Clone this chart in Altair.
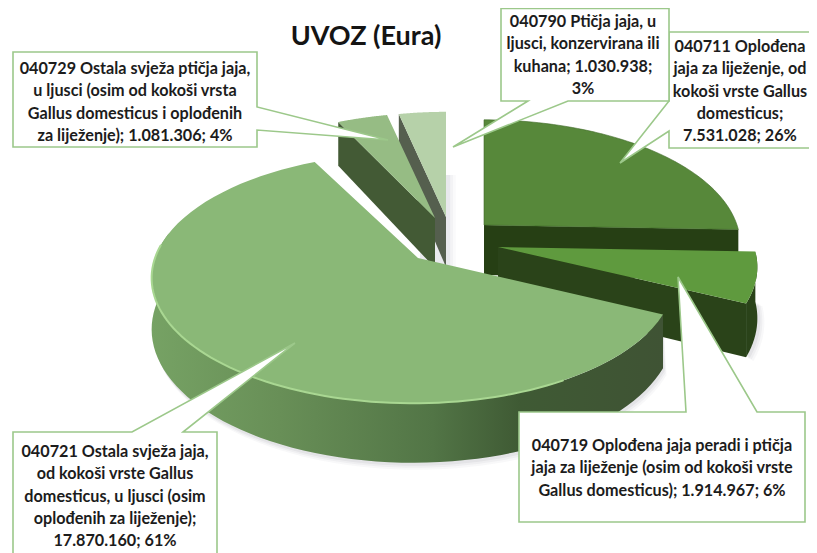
import math
import altair as alt

# ---- data
codes = ["040711", "040719", "040721", "040729", "040790"]
values = [7531028, 1914967, 17870160, 1081306, 1030938]
label_lines = [
    ["040711 Oplođena", "jaja za liježenje, od", "kokoši vrste Gallus", "domesticus;", "7.531.028; 26%"],
    ["040719 Oplođena jaja peradi i ptičja", "jaja za liježenje (osim od kokoši vrste", "Gallus domesticus); 1.914.967; 6%"],
    ["040721 Ostala svježa jaja,", "od kokoši vrste Gallus", "domesticus, u ljusci (osim", "oplođenih za liježenje);", "17.870.160; 61%"],
    ["040729 Ostala svježa ptičja jaja,", "u ljusci (osim od kokoši vrsta", "Gallus domesticus i oplođenih", "za liježenje); 1.081.306; 4%"],
    ["040790 Ptičja jaja, u", "ljusci, konzervirana ili", "kuhana; 1.030.938;", "3%"],
]
title_text = "UVOZ (Eura)"

# ---- layout (page pixels)
RY, K, DEPTH = 122, 0.16, 50
slice_geo = {  # apex x, apex y, rx, arc centre shift
    "040711": (484, 225, 253, 0),
    "040719": (498, 247, 256, 0),
    "040721": (418, 258, 258, -5),
    "040729": (435, 218, 254, 0),
    "040790": (446, 217, 250, 0),
}
top_col = {"040711": "#57883a", "040719": "#5f9a3e", "040721": "#8ab877", "040729": "#96bc84", "040790": "#b6d1a9"}
wall_col = {"040711": "#263f14", "040719": "#2a4319", "040729": "#435a35", "040790": "#555f4e"}
box_stroke = "#9cc88a"

callouts = {  # box x0,y0,x1,y1 ; pointer polygon inserted in the outline
    "040729": dict(box=(13, 52, 257, 147), ptr=[(257, 130), (388, 140), (257, 107)], side="left-right"),
    "040790": dict(box=(501, 8.5, 669, 101), ptr=[(568, 101), (453, 147), (528, 101)], side="bottom"),
    "040711": dict(box=(669, 32, 830, 148), ptr=[(669, 131), (620, 163), (669, 101)], side="left"),
    "040719": dict(box=(519, 412, 805, 522), ptr=[(686, 412), (678, 277), (757, 412)], side="top"),
    "040721": dict(box=(13, 432, 217, 570), ptr=[(132, 432), (295, 343), (183, 432)], side="top"),
}
text_pos = {  # centre x, first baseline
    "040711": (740, 52), "040719": (662, 451), "040721": (115, 457), "040729": (135, 74), "040790": (583, 27),
}

total = sum(values)
angles = {}
acc = 0.0
for c, v in zip(codes, values):
    angles[c] = (acc / total * 360, (acc + v) / total * 360)
    acc += v


def pt(code, th, down=0.0):
    ax, ay, rx, dx = slice_geo[code]
    t = math.radians(th)
    u, v = math.sin(t), math.cos(t)
    s = 1 / (1 + K * v)
    return (ax + dx + rx * u * s, ay - RY * v * s + down * s)


def arc(code, a, b, extr=False, n=70):
    out = []
    for i in range(n + 1):
        th = a + (b - a) * i / n
        out.append(pt(code, th, DEPTH if extr else 0))
    return out


def shift(p):
    return [p[0] - 8, p[1] - 8]


def poly(points):
    ring = [shift(p) for p in points]
    ring.append(ring[0])
    return {"type": "Feature", "properties": {}, "geometry": {"type": "Polygon", "coordinates": [ring]}}


def line(points):
    return {"type": "Feature", "properties": {}, "geometry": {"type": "LineString", "coordinates": [shift(p) for p in points]}}


PROJ = dict(type="identity", scale=1, translate=[0, 0])


def shape(feature, **mark):
    data = alt.InlineData(values={"type": "FeatureCollection", "features": [feature]},
                          format=alt.DataFormat(property="features", type="json"))
    return alt.Chart(data).mark_geoshape(**mark).project(**PROJ)


def apex(code):
    ax, ay, _, _ = slice_geo[code]
    return (ax, ay)


def top(code):
    a, b = angles[code]
    return poly([apex(code)] + arc(code, a, b))


def radial_wall(code, th):
    ax, ay = apex(code)
    p = pt(code, th)
    q = pt(code, th, DEPTH)
    return poly([(ax, ay), p, q, (ax, ay + DEPTH)])


def outer_wall(code, a, b):
    up = arc(code, a, b)
    dn = arc(code, a, b, True)
    return poly(up + dn[::-1])


layers = []

# soft shadows
a721, b721 = angles["040721"]
for off, op in [(7, 0.04), (5, 0.05), (3, 0.07)]:
    layers.append(shape(poly([(x + off * 0.5, y + off) for x, y in arc("040721", a721, 275, True)] + arc("040721", a721, 275)[::-1]),
                        fill="#555560", opacity=op, stroke=None))
    layers.append(shape(poly([(x + off, y + off * 0.6) for x, y in arc("040719", 92.1, 115.5, True)] + [(700, 300)]),
                        fill="#555560", opacity=op, stroke=None))
    layers.append(shape(poly([(446 + off * 1.4, 175), (446 + off * 1.4, 265 + off), (420, 265 + off), (420, 175)]),
                        fill="#777790", opacity=op, stroke=None))

# 040790
a, b = angles["040790"]
layers.append(shape(radial_wall("040790", a), fill=wall_col["040790"]))
layers.append(shape(top("040790"), fill=top_col["040790"]))
# 040729
a, b = angles["040729"]
layers.append(shape(radial_wall("040729", a), fill=wall_col["040729"]))
layers.append(shape(top("040729"), fill=top_col["040729"]))
# 040711
a, b = angles["040711"]
layers.append(shape(radial_wall("040711", b), fill=wall_col["040711"]))
layers.append(shape(top("040711"), fill=top_col["040711"], stroke="#3f6a28", strokeWidth=0.6))
# 040719
a, b = angles["040719"]
layers.append(shape(outer_wall("040719", a, b), fill=wall_col["040719"]))
layers.append(shape(radial_wall("040719", b), fill=wall_col["040719"]))
layers.append(shape(top("040719"), fill=top_col["040719"]))
# 040721
a, b = angles["040721"]
wall_grad = alt.LinearGradient(
    gradient="linear", x1=0, y1=0, x2=1, y2=0,
    stops=[alt.GradientStop(color="#76a264", offset=0), alt.GradientStop(color="#688f57", offset=0.25),
           alt.GradientStop(color="#527546", offset=0.55), alt.GradientStop(color="#3f5a34", offset=0.72),
           alt.GradientStop(color="#3f5334", offset=1)])
layers.append(shape(outer_wall("040721", a, 282), fill=wall_grad))
layers.append(shape(top("040721"), fill=top_col["040721"]))
layers.append(shape(line(arc("040721", 150, 276)), filled=False, stroke="#a9d792", strokeWidth=2, strokeCap="round"))

# callouts
for code in ["040729", "040721", "040719", "040711", "040790"]:
    c = callouts[code]
    x0, y0, x1, y1 = c["box"]
    p = c["ptr"]
    if c["side"] == "left-right":
        outline = [(x0, y0), (x1, y0), p[2], p[1], p[0], (x1, y1), (x0, y1)]
    elif c["side"] == "bottom":
        outline = [(x0, y0), (x1, y0), (x1, y1), p[0], p[1], p[2], (x0, y1)]
    elif c["side"] == "left":
        outline = [(x0, y0), (x1, y0), (x1, y1), (x0, y1), p[0], p[1], p[2]]
    else:
        outline = [(x0, y0), p[0], p[1], p[2], (x1, y0), (x1, y1), (x0, y1)]
    layers.append(shape(poly(outline), fill="white", stroke=box_stroke, strokeWidth=1.6))

# texts
blank = alt.Data(values=[{"k": 1}])
for code, lines in zip(codes, label_lines):
    cx, by = text_pos[code]
    layers.append(alt.Chart(blank).mark_text(
        text=lines, x=cx - 8, y=by - 8, align="center", baseline="alphabetic", lineHeight=22.3,
        font="Lato", fontSize=16.2, fontWeight="bold", color="#1c1c1c"))
layers.append(alt.Chart(blank).mark_text(
    text=title_text, x=366 - 8, y=45 - 8, align="center", baseline="alphabetic",
    font="Lato", fontSize=27, fontWeight="bold", color="#141414"))

chart = alt.layer(*layers).properties(width=801, height=545, padding=0).configure_view(stroke=None)
chart.save("out.html", embed_options={"renderer": "svg", "actions": False})
